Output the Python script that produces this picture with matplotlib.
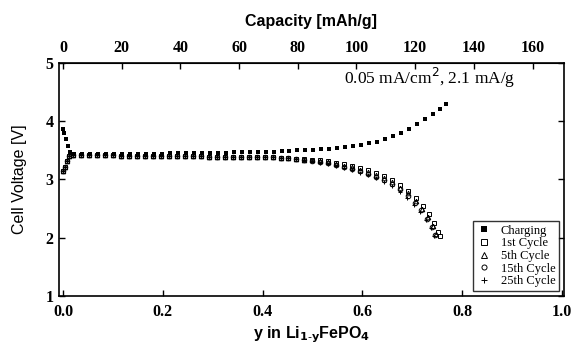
import matplotlib
matplotlib.use("Agg")
import matplotlib.pyplot as plt

# Charging curve (filled squares)
charge_x = [0.000, 0.003, 0.006, 0.010, 0.015, 0.022, 0.038, 0.054, 0.070, 0.086,
            0.102, 0.118, 0.134, 0.150, 0.166, 0.182, 0.198, 0.214, 0.230, 0.246,
            0.262, 0.278, 0.294, 0.310, 0.326, 0.342, 0.358, 0.374, 0.390, 0.406,
            0.422, 0.438, 0.454, 0.470, 0.486, 0.502, 0.518, 0.534, 0.550, 0.566,
            0.582, 0.598, 0.614, 0.630, 0.646, 0.662, 0.678, 0.694, 0.710, 0.726,
            0.742, 0.756, 0.768]
charge_v = [3.86, 3.80, 3.70, 3.58, 3.48, 3.44, 3.43, 3.43, 3.43, 3.43,
            3.43, 3.43, 3.43, 3.44, 3.44, 3.44, 3.44, 3.45, 3.45, 3.45,
            3.45, 3.46, 3.46, 3.46, 3.46, 3.47, 3.47, 3.47, 3.48, 3.48,
            3.48, 3.49, 3.49, 3.50, 3.51, 3.51, 3.52, 3.53, 3.54, 3.56,
            3.57, 3.59, 3.62, 3.65, 3.69, 3.74, 3.80, 3.87, 3.95, 4.04,
            4.13, 4.21, 4.29]

# Discharge plateau, shared by all cycles (they overlap there)
plateau_x = [0.000, 0.004, 0.008, 0.013, 0.020, 0.036, 0.052, 0.068, 0.084, 0.100,
             0.116, 0.132, 0.148, 0.164, 0.180, 0.196, 0.212, 0.228, 0.244, 0.260,
             0.276, 0.292, 0.308, 0.324, 0.340, 0.356, 0.372, 0.388, 0.404, 0.420,
             0.436, 0.452]
plateau_v = [3.14, 3.22, 3.32, 3.40, 3.42, 3.42, 3.42, 3.42, 3.42, 3.42,
             3.41, 3.41, 3.41, 3.41, 3.41, 3.41, 3.40, 3.40, 3.40, 3.40,
             3.40, 3.39, 3.39, 3.39, 3.39, 3.39, 3.38, 3.38, 3.38, 3.38,
             3.37, 3.37]

# Discharge tails per cycle
c1_x = [0.468, 0.484, 0.500, 0.516, 0.532, 0.548, 0.564, 0.580, 0.596, 0.612,
        0.628, 0.644, 0.660, 0.676, 0.692, 0.708, 0.722, 0.734, 0.744, 0.752, 0.756]
c1_v = [3.36, 3.35, 3.34, 3.33, 3.31, 3.29, 3.26, 3.23, 3.20, 3.16,
        3.11, 3.06, 2.99, 2.91, 2.81, 2.69, 2.55, 2.40, 2.25, 2.10, 2.03]
c5_x = [0.468, 0.484, 0.500, 0.516, 0.532, 0.548, 0.564, 0.580, 0.596, 0.612,
        0.628, 0.644, 0.660, 0.676, 0.692, 0.708, 0.720, 0.732, 0.741, 0.748]
c5_v = [3.36, 3.34, 3.33, 3.32, 3.30, 3.27, 3.24, 3.21, 3.17, 3.13,
        3.08, 3.02, 2.95, 2.86, 2.76, 2.63, 2.50, 2.35, 2.20, 2.06]
c15_x = [0.468, 0.484, 0.500, 0.516, 0.532, 0.548, 0.564, 0.580, 0.596, 0.612,
         0.628, 0.644, 0.660, 0.676, 0.692, 0.706, 0.718, 0.730, 0.739, 0.746]
c15_v = [3.35, 3.34, 3.32, 3.30, 3.28, 3.25, 3.22, 3.18, 3.14, 3.10,
         3.05, 2.99, 2.92, 2.83, 2.72, 2.60, 2.47, 2.33, 2.19, 2.05]
c25_x = [0.468, 0.484, 0.500, 0.516, 0.532, 0.548, 0.564, 0.580, 0.596, 0.612,
         0.628, 0.644, 0.660, 0.676, 0.690, 0.704, 0.716, 0.728, 0.737, 0.744]
c25_v = [3.35, 3.33, 3.31, 3.29, 3.27, 3.24, 3.20, 3.16, 3.12, 3.07,
         3.02, 2.96, 2.88, 2.79, 2.69, 2.57, 2.44, 2.30, 2.16, 2.03]

cycle_labels = ['1st Cycle', '5th Cycle', '15th Cycle', '25th Cycle']
cycle_markers = ['s', '^', 'o', '+']
cycle_x = [c1_x, c5_x, c15_x, c25_x]
cycle_v = [c1_v, c5_v, c15_v, c25_v]

capacity_ticks = [0, 20, 40, 60, 80, 100, 120, 140, 160]
theoretical_capacity = 170.0  # mAh/g at y = 1

serif = 'Liberation Serif'
sans = 'Liberation Sans'

fig = plt.figure(figsize=(5.76, 3.44), dpi=100)
ax = fig.add_axes([0.1024, 0.1395, 0.8766, 0.6774])

ax.plot(charge_x, charge_v, 's', color='black', markersize=3.4,
        markeredgewidth=0, label='Charging')
for lab, mk, xs, vs in zip(cycle_labels, cycle_markers, cycle_x, cycle_v):
    ax.plot(plateau_x + xs, plateau_v + vs, mk, markerfacecolor='none',
            markeredgecolor='black', color='black', markersize=3.3,
            markeredgewidth=0.7, label=lab)

ax.set_xlim(-0.008, 1.004)
ax.set_ylim(1, 5)
ax.set_xticks([0.0, 0.2, 0.4, 0.6, 0.8, 1.0])
ax.set_xticklabels(['0.0', '0.2', '0.4', '0.6', '0.8', '1.0'])
ax.set_yticks([1, 2, 3, 4, 5])
ax.tick_params(direction='in', length=4, width=1, top=False, right=True)
ax.tick_params(axis='x', pad=6)
ax.tick_params(axis='y', pad=4)
for t in ax.get_xticklabels() + ax.get_yticklabels():
    t.set_fontfamily(serif)
    t.set_fontweight('bold')
    t.set_fontsize(11.5)
for s in ax.spines.values():
    s.set_linewidth(1.2)

ax.set_xlabel(r'y in Li$_{\mathbf{1\text{-}y}}$FePO$_{\mathbf{4}}$',
              fontfamily=sans, fontweight='bold', fontsize=11.5, labelpad=3)
ax.set_ylabel('Cell Voltage [V]', fontfamily=sans, fontsize=11.5, labelpad=13)

top = ax.secondary_xaxis('top', functions=(lambda y: y * theoretical_capacity,
                                            lambda c: c / theoretical_capacity))
top.set_xticks(capacity_ticks)
top.tick_params(direction='in', length=4, width=1, pad=5)
for t in top.get_xticklabels():
    t.set_fontfamily(serif)
    t.set_fontweight('bold')
    t.set_fontsize(11.5)
top.set_xlabel('Capacity [mAh/g]', fontfamily=sans, fontweight='bold',
               fontsize=11.5, labelpad=10)

ax.text(0.903, 0.936, r'0.05 mA/cm$^2$, 2.1 mA/g', transform=ax.transAxes,
        ha='right', va='center', fontfamily=serif, fontsize=12.5)

leg = ax.legend(loc='lower right', prop={'family': serif, 'size': 9},
                frameon=True, fancybox=False, edgecolor='black',
                handlelength=1.2, handletextpad=0.7, labelspacing=0.05,
                borderpad=0.3, borderaxespad=0.4, markerscale=1.1)
leg.get_frame().set_linewidth(1.0)

fig.savefig('out.png', dpi=100)
